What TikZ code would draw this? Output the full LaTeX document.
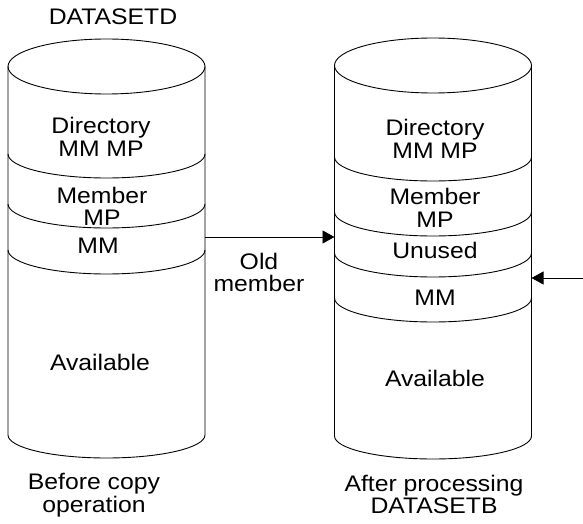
\documentclass[tikz,border=0pt]{standalone}
\usepackage{fontspec}
\setmainfont{Liberation Sans}[FakeStretch=1.1]
\usetikzlibrary{arrows.meta}
\begin{document}
\begin{tikzpicture}[x=1pt,y=1pt,line width=0.9pt,
  lbl/.style={align=center,font=\fontsize{22.5}{22.5}\selectfont,inner sep=0pt},
  band/.style={draw=black},
  conn/.style={draw=black,-{Triangle[length=12pt,width=13pt]}}]
\useasboundingbox (0,0) rectangle (583,523);
% ---- left cylinder
\draw (8,456.5) -- (8,88) arc[start angle=180,end angle=360,x radius=98.5,y radius=23] -- (205,456.5);
\draw (106.5,456.5) ellipse [x radius=98.5,y radius=27.5];
\foreach \y in {369,319,273}
  \draw[band] (8,\y) arc[start angle=180,end angle=360,x radius=98.5,y radius=24];
% ---- right cylinder
\draw (334.5,457.5) -- (334.5,87) arc[start angle=180,end angle=360,x radius=98.5,y radius=23] -- (531.5,457.5);
\draw (433,457.5) ellipse [x radius=98.5,y radius=27.5];
\foreach \y in {366,311,270,225}
  \draw[band] (334.5,\y) arc[start angle=180,end angle=360,x radius=98.5,y radius=24];
% ---- labels
\node[lbl] (tl) at (113,506) {DATASETD};
\node[lbl] (ld) at (101,386) {Directory\\MM MP};
\node[lbl] (lm) at (102,316.5) {Member\\MP};
\node[lbl] (lmm) at (98,277) {MM};
\node[lbl] (la) at (100,161) {Available};
\node[lbl] (lb) at (94,28) {Before copy\\operation};
\node[lbl] (rd) at (435,384) {Directory\\MM MP};
\node[lbl] (rm) at (435,315) {Member\\MP};
\node[lbl] (ru) at (435,273) {Unused};
\node[lbl] (rmm) at (435,225) {MM};
\node[lbl] (ra) at (435,145) {Available};
\node[lbl] (rb) at (434,28.5) {After processing\\DATASETB};
\node[lbl] (old) at (259,250.5) {Old\\member};
% ---- connectors
\coordinate (lout) at (205,286);
\coordinate (rin) at (334.5,286);
\coordinate (ext) at (583,245);
\coordinate (rin2) at (531.5,245);
\draw[conn] (lout) -- (rin);
\draw[conn] (ext) -- (rin2);
\end{tikzpicture}
\end{document}
